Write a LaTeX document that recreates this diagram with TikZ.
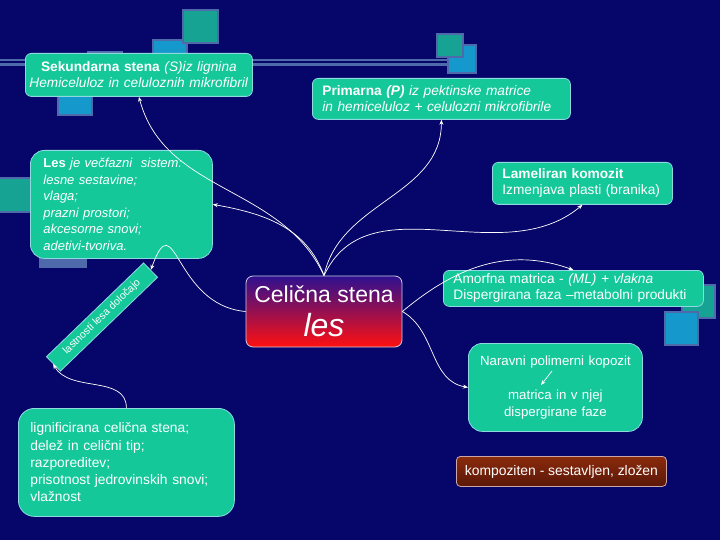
\documentclass[tikz,border=0pt]{standalone}
\usepackage{fontspec}
\setmainfont{Liberation Sans}
\usetikzlibrary{arrows.meta,positioning}
\definecolor{Night}{HTML}{06066A}
\definecolor{Leaf}{HTML}{14C89A}
\definecolor{LeafEdge}{HTML}{8ED8E0}
\definecolor{Steel}{HTML}{4E6AAA}
\definecolor{Teal}{HTML}{17A394}
\definecolor{Sky}{HTML}{1598CC}
\definecolor{CoreTop}{HTML}{2E1090}
\definecolor{CoreMid}{HTML}{A0106E}
\definecolor{CoreRed}{HTML}{FF1010}
\definecolor{Rust}{HTML}{8A2A0C}
\definecolor{RustDark}{HTML}{5A1808}
\tikzset{card/.style={draw=LeafEdge,fill=Leaf,rounded corners=6pt,text=white,
    line width=0.8pt,inner xsep=10pt,inner ysep=3pt,anchor=north west,
    font=\fontsize{13.7}{16}\selectfont},
  bigcard/.style={card,rounded corners=14pt,font=\fontsize{13}{16.6}\selectfont},
  core/.style={draw=LeafEdge!60!violet!40!white,rounded corners=7pt,line width=0.8pt,
    top color=CoreTop,middle color=CoreMid,bottom color=CoreRed,text=white,
    align=center,minimum width=156pt,minimum height=71pt,inner sep=2pt,
    font=\fontsize{23}{25}\selectfont},
  tilt/.style={draw=LeafEdge,fill=Leaf,text=white,rotate=44,line width=0.8pt,
    minimum width=135pt,minimum height=20pt,inner sep=1pt,
    font=\fontsize{10.5}{12}\selectfont},
  rustcard/.style={draw=pink!60!gray,rounded corners=4pt,line width=0.8pt,
    top color=Rust,bottom color=RustDark,text=white,anchor=north west,
    minimum width=210pt,minimum height=30pt,font=\fontsize{13.9}{15}\selectfont},
  link/.style={-{Stealth[length=5pt,width=4pt]},draw=white,line width=0.7pt},
  tile/.style={draw=Steel,line width=2pt}}

\begin{document}
\begin{tikzpicture}[x=1pt,y=-1pt]
  \fill[Night] (0,0) rectangle (720,540);
  \useasboundingbox (0,0) rectangle (720,540);

  % background tiles and rails
  \draw[Steel,line width=2.5pt] (0,60) -- (450,60) (0,64.5) -- (450,64.5);
  \filldraw[tile,fill=Sky] (448,45) rectangle (476,73);
  \filldraw[tile,fill=Teal] (437,34) rectangle (463,57);
  \filldraw[tile,fill=Steel] (88,52) rectangle (122,86);
  \filldraw[tile,fill=Sky] (153,40) rectangle (187,75);
  \filldraw[tile,fill=Teal] (183,10) rectangle (218,43);
  \filldraw[tile,fill=Sky] (58,80) rectangle (92,115);
  \filldraw[tile,fill=Teal] (-5,178) rectangle (40,212);
  \filldraw[tile,fill=Steel] (40,235) rectangle (86,267);
  \filldraw[tile,fill=Teal] (682,285) rectangle (715,318);
  \filldraw[tile,fill=Sky] (665,312) rectangle (698,345);

  % boxes
  \node[card,align=center,inner xsep=3pt,text width=221pt,minimum height=43pt] (sek) at (25,53)
    {\textbf{Sekundarna stena} \textit{(S)iz lignina}\\\textit{Hemiceluloz in celuloznih mikrofibril}};
  \node[card,align=left,text width=238pt,minimum height=41pt] (prim) at (312,78)
    {\textbf{Primarna \textit{(P)}} \textit{iz pektinske matrice}\\\textit{in hemiceluloz + celulozni mikrofibrile}};
  \node[bigcard,align=left,inner xsep=13pt,text width=156pt,minimum height=108pt] (les) at (30,150)
    {\textbf{Les} \textit{je večfazni\ \ sistem:}\\\textit{lesne sestavine;}\\\textit{vlaga;}\\
     \textit{prazni prostori;}\\\textit{akcesorne snovi;}\\\textit{adetivi-tvoriva.}};
  \node[card,align=left,text width=160pt,minimum height=42pt] (lam) at (492,162)
    {\textbf{Lameliran komozit}\\Izmenjava plasti (branika)};
  \node[card,align=left,text width=240pt,minimum height=36pt] (amo) at (443,270)
    {Amorfna matrica - \textit{(ML) + vlakna}\\Dispergirana faza –metabolni produkti};
  \node[bigcard,align=center,inner xsep=3pt,text width=168pt,minimum height=88pt,
    font=\fontsize{13.3}{16.8}\selectfont] (nar) at (468,343)
    {Naravni polimerni kopozit\\[16.8pt]matrica in v njej\\dispergirane faze};
  \node[rustcard] (komp) at (456,456) {kompoziten - sestavljen, zložen};
  \node[bigcard,rounded corners=16pt,align=left,inner xsep=12pt,text width=192pt,minimum height=108pt,
    font=\fontsize{13.8}{17.2}\selectfont] (lig) at (18,408)
    {lignificirana celična stena;\\delež in celični tip;\\razporeditev;\\prisotnost jedrovinskih snovi;\\vlažnost};
  \node[tilt] (rot) at (102,317) {lastnosti lesa določajo};
  \node[core] (cw) at (324,311.5) {Celična stena\\[9pt]{\fontsize{32}{32}\selectfont\itshape les}};

  % links
  \draw[link] (cw.north) to[out=115,in=-75] (sek.south);
  \draw[link] (cw.north) to[out=110,in=-10] (les.east);
  \draw[link] (cw.north) to[out=78,in=-90] (prim.south);
  \draw[link] (cw.north) to[out=65,in=-140] (lam.south);
  \draw[link] (cw.east) to[out=40,in=160] (amo.north);
  \draw[link] (cw.east) to[out=-30,in=170] (nar.west);
  \draw[link] (cw.west) to[out=175,in=70,looseness=1.8] (rot.east);
  \draw[link] (lig.north) to[out=90,in=-60] (rot.west);
  \coordinate (kTop) at (552,371);
  \coordinate (kEnd) at (541,385);
  \draw[link] (kTop) -- (kEnd);
\end{tikzpicture}
\end{document}
